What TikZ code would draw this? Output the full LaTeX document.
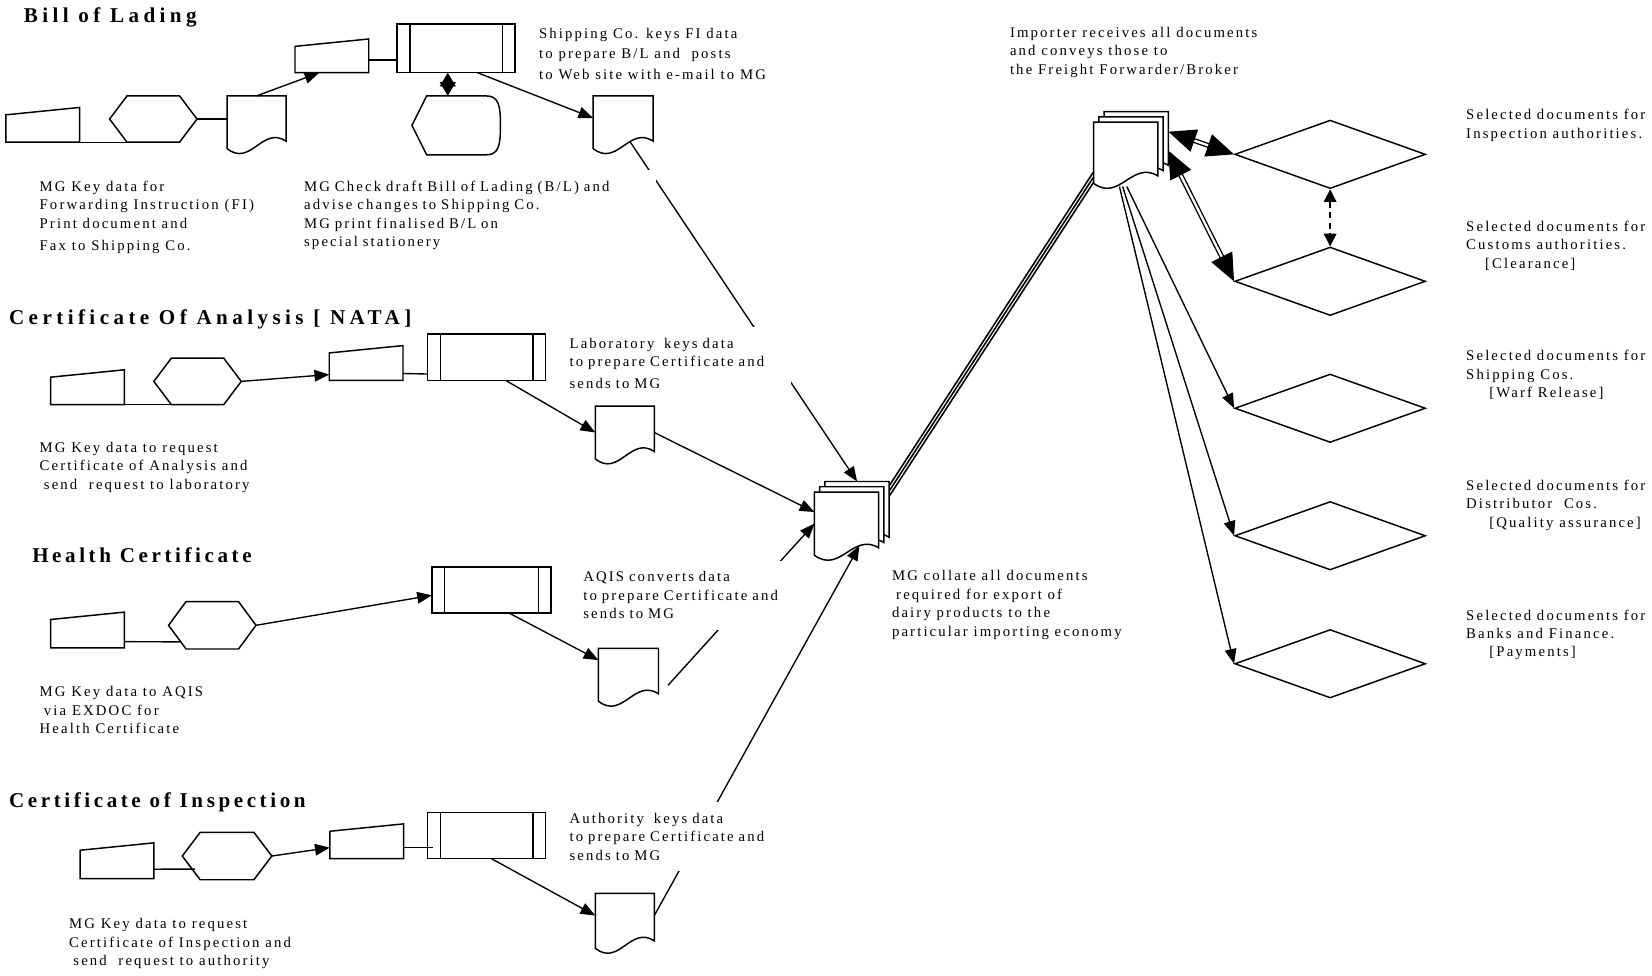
\documentclass[tikz,border=0pt]{standalone}
\usepackage{fontspec}
\setmainfont{Liberation Serif}[LetterSpace=14.5]
\newfontfamily\headfont{Liberation Serif}[LetterSpace=21]
\usetikzlibrary{arrows.meta,calc,shapes.geometric}
\begin{document}
\begin{tikzpicture}[x=1pt,y=-1pt,line width=1.3pt,
  outline/.style={line width=1.4pt,fill=white},
  shp/.style={inner sep=0pt,outer sep=0pt},
  mi/.style={shp,minimum width=70pt,minimum height=33pt,append after command={\pgfextra{\draw[outline]
    (\tikzlastnode.south west) -- ($(\tikzlastnode.north west)+(0,7)$) -- (\tikzlastnode.north east) -- (\tikzlastnode.south east) -- cycle;}}},
  hexa/.style={shp,minimum width=83pt,minimum height=44pt,append after command={\pgfextra{\draw[outline]
    (\tikzlastnode.west) -- ($(\tikzlastnode.north west)!0.2!(\tikzlastnode.north east)$) -- ($(\tikzlastnode.north west)!0.8!(\tikzlastnode.north east)$)
    -- (\tikzlastnode.east) -- ($(\tikzlastnode.south west)!0.8!(\tikzlastnode.south east)$) -- ($(\tikzlastnode.south west)!0.2!(\tikzlastnode.south east)$) -- cycle;}}},
  proc/.style={shp,minimum width=112pt,minimum height=45pt,append after command={\pgfextra{\draw[outline]
    (\tikzlastnode.north west) rectangle (\tikzlastnode.south east)
    ([xshift=12pt]\tikzlastnode.north west) -- ([xshift=12pt]\tikzlastnode.south west)
    ([xshift=-12pt]\tikzlastnode.north east) -- ([xshift=-12pt]\tikzlastnode.south east);}}},
  disp/.style={shp,minimum width=84pt,minimum height=56pt,append after command={\pgfextra{\draw[outline]
    (\tikzlastnode.west) -- ($(\tikzlastnode.north west)+(14,0)$) -- ($(\tikzlastnode.north east)+(-14,0)$)
    .. controls ($(\tikzlastnode.north east)+(-2,0)$) and ($(\tikzlastnode.east)+(0,-20)$) .. (\tikzlastnode.east)
    .. controls ($(\tikzlastnode.east)+(0,20)$) and ($(\tikzlastnode.south east)+(-2,0)$) .. ($(\tikzlastnode.south east)+(-14,0)$)
    -- ($(\tikzlastnode.south west)+(14,0)$) -- cycle;}}},
  docu/.style={shp,minimum width=56pt,minimum height=50pt,append after command={\pgfextra{\draw[outline]
    (\tikzlastnode.south west) -- (\tikzlastnode.north west) -- (\tikzlastnode.north east) -- ($(\tikzlastnode.south east)+(0,-7)$)
    .. controls ($(\tikzlastnode.south west)!0.6!(\tikzlastnode.south east)+(0,-22)$) and ($(\tikzlastnode.south west)!0.4!(\tikzlastnode.south east)+(0,18)$) .. (\tikzlastnode.south west) -- cycle;}}},
  diam/.style={diamond,draw,line width=1.4pt,fill=white,minimum width=181pt,minimum height=65pt,inner sep=0pt},
  arr/.style={-{Triangle[length=14pt,width=11pt]}},
  dblarr/.style={double,double distance=2.2pt,line width=1.3pt,{Triangle[length=26pt,width=22pt]}-{Triangle[length=26pt,width=22pt]}},
  txt/.style={anchor=north west,inner sep=0pt,align=left,font=\fontsize{14}{17.5}\selectfont},
  cover/.style={txt,fill=white,inner xsep=5pt,inner ysep=10pt},
  head/.style={anchor=north west,inner sep=0pt,font=\headfont\bfseries\fontsize{20}{24}\selectfont}]
\path[use as bounding box,fill=white] (0,0) rectangle (1568,926);
% Bill of Lading
\node[mi] (mi1) at (40.5,118.5) {};
\node[hexa] (hex1) at (145.5,113) {};
\node[docu] (doc1) at (243.5,116) {};
\node[mi,minimum height=32pt] (mi2) at (315,53) {};
\node[proc,minimum height=46pt] (proc1) at (433,46) {};
\node[disp] (disp1) at (433,119) {};
\node[docu,minimum width=57pt] (doc2) at (591.5,116) {};
% Certificate of Analysis
\node[mi] (mi3) at (83,367.5) {};
\node[hexa] (hex2) at (187.5,362) {};
\node[mi] (mi4) at (347.5,344.5) {};
\node[proc,minimum height=44pt] (proc2) at (462,339) {};
\node[docu] (doc3) at (593,410.5) {};
% Health Certificate
\node[mi,minimum height=34pt] (mi5) at (83,598) {};
\node[hexa,minimum height=45pt] (hex3) at (201.5,593.5) {};
\node[proc,minimum width=113pt,minimum height=44pt] (proc3) at (466.5,560) {};
\node[docu,minimum width=57pt] (doc4) at (596.5,640.5) {};
% Certificate of Inspection
\node[mi,minimum height=34pt] (mi6) at (111,817) {};
\node[hexa,minimum width=85pt,minimum height=45pt] (hex4) at (215.5,812.5) {};
\node[mi] (mi7) at (348,798.5) {};
\node[proc,minimum height=44pt] (proc4) at (462,793) {};
\node[docu,minimum height=52pt] (doc5) at (593,874) {};
% stacks and receivers
\foreach \i/\s in {3/10,2/5,1/0}{
  \node[docu,minimum width=61pt,minimum height=60pt] (col\i) at (803.5+\s,497-\s) {};
  \node[docu,minimum width=61pt,minimum height=58pt] (imp\i) at (1068.5+\s,145-\s) {};}
\foreach \i/\y in {1/146.5,2/267,3/387.5,4/508.5,5/630}{\node[diam] (d\i) at (1262.5,\y) {};}
% connectors
\draw (mi1.south east) -- ($(hex1.south west)!0.2!(hex1.south east)$);
\draw (hex1.east) -- ([yshift=3pt]doc1.west);
\draw[arr] (doc1.north) -- ($(mi2.south west)!0.33!(mi2.south east)$);
\draw ([yshift=-4pt]mi2.east) -- ([yshift=-11pt]proc1.west);
\draw[{Triangle[length=13pt,width=15pt]}-{Triangle[length=13pt,width=15pt]}] ([xshift=-8pt]proc1.south) -- ([xshift=-8pt]disp1.north);
\draw[arr] ($(proc1.south west)!0.68!(proc1.south east)$) -- ([yshift=4pt]doc2.west);
\draw[arr] ($(doc2.south west)!0.62!(doc2.south east)+(0,-6)$) -- (col3.north);
\draw (mi3.south east) -- ($(hex2.south west)!0.2!(hex2.south east)$);
\draw[arr] (hex2.east) -- ([yshift=-11pt]mi4.west);
\draw ([yshift=-10pt]mi4.east) -- ([yshift=-16pt]proc2.west);
\draw[arr] ($(proc2.south west)!0.66!(proc2.south east)$) -- (doc3.west);
\draw[arr] (doc3.east) -- ([yshift=11pt]col1.west);
\draw ([yshift=-11pt]mi5.east) -- ($(hex3.west)!0.7!(hex3.south west)+(11,0)$);
\draw[arr] (hex3.east) -- ([yshift=-5pt]proc3.west);
\draw[arr] ($(proc3.south west)!0.65!(proc3.south east)$) -- ([yshift=14pt]doc4.west);
\coordinate (aqisend) at ($(doc4.east)+(9,10)$);
\draw[arr] (aqisend) -- (col1.west);
\draw ([yshift=-8pt]mi6.east) -- ($(hex4.west)!0.55!(hex4.south west)+(12,0)$);
\draw[arr] (hex4.east) -- ([yshift=-6pt]mi7.west);
\draw ([yshift=-6pt]mi7.east) -- ([xshift=5pt,yshift=-11.5pt]proc4.west);
\draw[arr] ($(proc4.south west)!0.54!(proc4.south east)$) -- ([yshift=5pt]doc5.west);
\draw[arr] ([yshift=5pt]doc5.east) -- ($(col1.south west)!0.7!(col1.south east)+(0,-9)$);
\foreach \d in {0,5,10}{\draw[line width=1.5pt] ([yshift={-4-\d}]col3.north east) -- ([yshift={-18-\d}]imp1.west);}
\draw[dblarr] ([yshift=10pt]imp3.east) -- (d1.west);
\draw[dblarr] ([yshift=-8pt]imp3.east) -- (d2.west);
\draw[dash pattern=on 6pt off 4pt,{Triangle[length=12pt,width=12pt]}-{Triangle[length=12pt,width=12pt]}] (d1.south) -- (d2.north);
\foreach \i/\s in {3/1,4/-3,5/-6}{\draw[arr] ([xshift=\s pt,yshift=-3pt]imp1.south) -- (d\i.west);}
% titles and texts
\node[head] (bol) at (22,7) {Bill of Lading};
\node[head] (coa) at (8,293) {Certificate Of Analysis [ NATA]};
\node[head] (hc) at (30,519) {\addfontfeature{LetterSpace=17}Health Certificate};
\node[head] (coi) at (8,752) {\addfontfeature{LetterSpace=17}Certificate of Inspection};
\node[txt] (t1a) at (511,26) {Shipping Co. keys FI data\\[2pt] to prepare B/L and~ posts\\[2pt] to Web site with e-mail to MG};
\node[txt] (t1b) at (37,171) {MG Key data for\\ Forwarding Instruction (FI)\\ Print document and\\[3.5pt] Fax to Shipping Co.};
\node[cover,text width=329pt] (t1c) at (283,161) {MG Check draft Bill of Lading (B/L) and\\ advise changes to Shipping Co.\\ MG print finalised B/L on\\ special stationery};
\node[cover,text width=205pt] (t2a) at (535,310) {Laboratory~ keys data\\ to prepare Certificate and\\[3.5pt] sends to MG};
\node[txt] (t2b) at (37,419) {MG Key data to request\\ Certificate of Analysis and\\ \hspace*{4pt}send~ request to laboratory};
\node[cover,text width=202pt] (t3a) at (548,532) {AQIS converts data\\ to prepare Certificate and\\ sends to MG};
\node[txt] (t3b) at (37,651) {MG Key data to AQIS\\ \hspace*{4pt}via EXDOC for\\ Health Certificate};
\node[cover,text width=205pt] (t4a) at (535,761) {Authority~ keys data\\ to prepare Certificate and\\ sends to MG};
\node[txt] (t4b) at (65,871) {MG Key data to request\\ Certificate of Inspection and\\ \hspace*{4pt}send~ request to authority};
\node[txt] (tcol) at (846,541) {MG collate all documents\\ \hspace*{4pt}required for export of\\ dairy products to the\\ particular importing economy};
\node[txt] (timp) at (958,25) {Importer receives all documents\\ and conveys those to\\ the Freight Forwarder/Broker};
\node[txt] (r1) at (1391,103) {Selected documents for\\ Inspection authorities.};
\node[txt] (r2) at (1391,209) {Selected documents for\\ Customs authorities.\\ \hspace*{18pt}[Clearance]};
\node[txt] (r3) at (1391,332) {Selected documents for\\ Shipping Cos.\\ \hspace*{22pt}[Warf Release]};
\node[txt] (r4) at (1391,455) {Selected documents for\\ Distributor~ Cos.\\ \hspace*{22pt}[Quality assurance]};
\node[txt] (r5) at (1391,578) {Selected documents for\\ Banks and Finance.\\ \hspace*{22pt}[Payments]};
\end{tikzpicture}
\end{document}
